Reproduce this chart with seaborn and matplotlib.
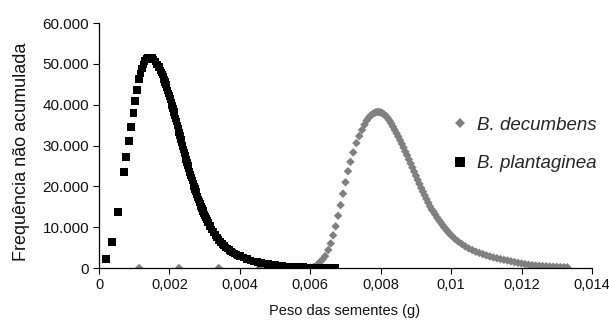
import matplotlib
matplotlib.use("Agg")
import matplotlib.pyplot as plt
import seaborn as sns
import pandas as pd
from matplotlib.lines import Line2D

# ---- data ----
plant_x = [0.0002, 0.00037, 0.00054, 0.00071, 0.00077, 0.00085, 0.00091, 0.00097, 0.00102, 0.00108, 0.00114,
           0.00118, 0.00122, 0.00126, 0.0013, 0.00134, 0.00138, 0.00142, 0.00146, 0.0015,
           0.00155, 0.0016, 0.00165, 0.0017, 0.00175, 0.001775, 0.0018, 0.001825, 0.00185, 0.001875,
           0.0019, 0.001925, 0.00195, 0.001975, 0.002, 0.002025, 0.00205, 0.002075, 0.0021, 0.002125,
           0.00215, 0.002175, 0.0022, 0.002225, 0.00225, 0.002275, 0.0023, 0.002325, 0.00235, 0.002375,
           0.0024, 0.002425, 0.00245, 0.002475, 0.0025, 0.002525, 0.00255, 0.002575, 0.0026, 0.002625,
           0.00265, 0.002675, 0.0027, 0.002725, 0.00275, 0.002775, 0.0028, 0.002825, 0.00285, 0.002875,
           0.0029, 0.002925, 0.00295, 0.002975, 0.003, 0.003025, 0.00305, 0.003075, 0.0031, 0.00315,
           0.0032, 0.00325, 0.0033, 0.00335, 0.0034, 0.00345, 0.0035,
           0.00355, 0.0036, 0.00365, 0.0037, 0.00375, 0.0038, 0.00385, 0.0039, 0.00395, 0.004,
           0.0041, 0.0042, 0.0043, 0.0044, 0.0045, 0.0046, 0.0047, 0.0048, 0.0049, 0.005,
           0.0051, 0.0052, 0.0053, 0.0054, 0.0055, 0.0056, 0.0057, 0.0058, 0.0059, 0.006,
           0.0061, 0.0062, 0.0063, 0.0064, 0.0065, 0.0066, 0.0067]
plant_y = [2200, 6400, 13700, 23500, 27200, 31100, 34500, 38000, 40900, 43600, 46300,
           47700, 48900, 49900, 50700, 51200, 51500, 51600, 51600, 51400,
           51000, 50500, 49900, 49200, 48400, 47900, 47400, 46800, 46200, 45550,
           44900, 44200, 43500, 42800, 42100, 41350, 40600, 39800, 39000, 38200,
           37400, 36600, 35800, 34950, 34100, 33250, 32400, 31550, 30700, 29850,
           29000, 28200, 27400, 26600, 25800, 25050, 24300, 23550, 22800, 22100,
           21400, 20700, 20000, 19350, 18700, 18050, 17400, 16800, 16200, 15650,
           15100, 14550, 14000, 13500, 13000, 12500, 12000, 11550, 11100, 10300,
           9500, 8800, 8100, 7500, 6900, 6400, 5900,
           5500, 5100, 4700, 4400, 4100, 3800, 3500, 3300, 3100, 2900,
           2500, 2200, 1900, 1650, 1450, 1250, 1100, 950, 820, 700,
           600, 520, 450, 390, 340, 290, 250, 210, 180, 150,
           130, 110, 90, 80, 70, 60, 50]

decum_x = [0.00114, 0.00227, 0.0034, 0.00457, 0.0052, 0.0056, 0.0059,
           0.006, 0.0061, 0.0062, 0.00628, 0.00635, 0.00642, 0.00651, 0.00658, 0.00665, 0.00672,
           0.00679, 0.00686, 0.00693, 0.007, 0.00707, 0.00714, 0.00722, 0.00731, 0.00739, 0.00747, 0.00754,
           0.0076, 0.00765, 0.0077, 0.00775, 0.0078, 0.00785, 0.0079, 0.00795, 0.008,
           0.00805, 0.0081, 0.00815, 0.0082, 0.00825, 0.0083, 0.00835, 0.0084,
           0.00845, 0.0085, 0.00855, 0.0086, 0.00865, 0.0087, 0.00875, 0.0088, 0.00885, 0.0089,
           0.00895, 0.009, 0.00905, 0.0091, 0.00915, 0.0092, 0.00925, 0.0093, 0.00935, 0.0094,
           0.00945, 0.0095, 0.00955, 0.0096, 0.00965, 0.0097, 0.00975, 0.0098, 0.00985, 0.0099,
           0.00995, 0.01, 0.0101, 0.0102, 0.0103, 0.0104, 0.0105, 0.0106, 0.0107, 0.0108,
           0.0109, 0.011, 0.0111, 0.0112, 0.0113, 0.0114, 0.0115, 0.0116, 0.0117, 0.0118,
           0.0119, 0.012, 0.0121, 0.0122, 0.0123, 0.0124, 0.0125, 0.0126, 0.0127, 0.0128,
           0.0129, 0.013, 0.0131, 0.0132, 0.0133]
decum_y = [0, 0, 0, 0, 0, 0, 0,
           100, 300, 800, 1500, 2100, 2900, 4400, 6000, 8000, 10200,
           12800, 15400, 18200, 21000, 23700, 26000, 28300, 30600, 32300, 33800, 35100,
           36100, 36700, 37200, 37600, 37900, 38100, 38200, 38200, 38100,
           37900, 37600, 37200, 36700, 36100, 35400, 34600, 33800,
           33000, 32200, 31300, 30400, 29500, 28500, 27600, 26600, 25600, 24600,
           23600, 22600, 21600, 20600, 19600, 18700, 17800, 16900, 16000, 15100,
           14300, 13800, 13100, 12400, 11800, 11200, 10600, 10000, 9500, 9000,
           8500, 8000, 7200, 6500, 5900, 5300, 4800, 4400, 4000, 3700,
           3400, 3100, 2850, 2600, 2400, 2200, 2000, 1850, 1650, 1450,
           1250, 1100, 950, 820, 700, 620, 550, 480, 420, 370,
           320, 280, 240, 210, 180]

series_names = ["B. decumbens", "B. plantaginea"]
x_ticks = [0, 0.002, 0.004, 0.006, 0.008, 0.01, 0.012, 0.014]
x_tick_labels = ["0", "0,002", "0,004", "0,006", "0,008", "0,01", "0,012", "0,014"]
y_ticks = [0, 10000, 20000, 30000, 40000, 50000, 60000]
y_tick_labels = ["0", "10.000", "20.000", "30.000", "40.000", "50.000", "60.000"]
x_label = "Peso das sementes (g)"
y_label = "Frequência não acumulada"

# ---- style ----
sns.set_theme(style="white")
plt.rcParams['font.family'] = ['Liberation Sans', 'DejaVu Sans']
plt.rcParams['font.size'] = 10

fig = plt.figure(figsize=(6.09, 3.24), dpi=100)
ax = fig.add_axes([0.1626, 0.1728, 0.8094, 0.7562])

df_d = pd.DataFrame({"x": decum_x, "y": decum_y})
df_p = pd.DataFrame({"x": plant_x, "y": plant_y})

gray = "#808080"
sns.scatterplot(data=df_d, x="x", y="y", marker="D", s=19, color=gray,
                linewidth=0, edgecolor="none", ax=ax, zorder=2)
sns.scatterplot(data=df_p, x="x", y="y", marker="s", s=28, color="black",
                linewidth=0, edgecolor="none", ax=ax, zorder=3)

ax.set_xlim(0, 0.014)
ax.set_ylim(0, 60000)
ax.set_xticks(x_ticks)
ax.set_xticklabels(x_tick_labels)
ax.set_yticks(y_ticks)
ax.set_yticklabels(y_tick_labels)
ax.tick_params(axis="both", direction="out", length=4, width=0.8, color="black",
               labelcolor="#111111", pad=3, bottom=True, left=True)
ax.tick_params(axis="x", labelsize=10.5)
ax.tick_params(axis="y", labelsize=11)
for side in ["top", "right"]:
    ax.spines[side].set_visible(False)
for side in ["left", "bottom"]:
    ax.spines[side].set_color("black")
    ax.spines[side].set_linewidth(0.9)
ax.set_xlabel(x_label, fontsize=10.5, color="#111111", va="center", ha="center")
ax.xaxis.set_label_coords(0.499, -0.1755)
ax.set_ylabel(y_label, fontsize=13, color="#111111", va="center", ha="center")
ax.yaxis.set_label_coords(-0.157, 0.4755)

handles = [
    Line2D([], [], linestyle="none", marker="D", markersize=5, color=gray, markeredgewidth=0),
    Line2D([], [], linestyle="none", marker="s", markersize=6.5, color="black", markeredgewidth=0),
]
ax.legend(handles, series_names, loc="center left", bbox_to_anchor=(0.68, 0.505),
          frameon=False, prop={"style": "italic", "size": 13.5}, labelspacing=1.15,
          handletextpad=0.4, handlelength=1.0, borderpad=0.4)

fig.savefig("out.png", dpi=100)
